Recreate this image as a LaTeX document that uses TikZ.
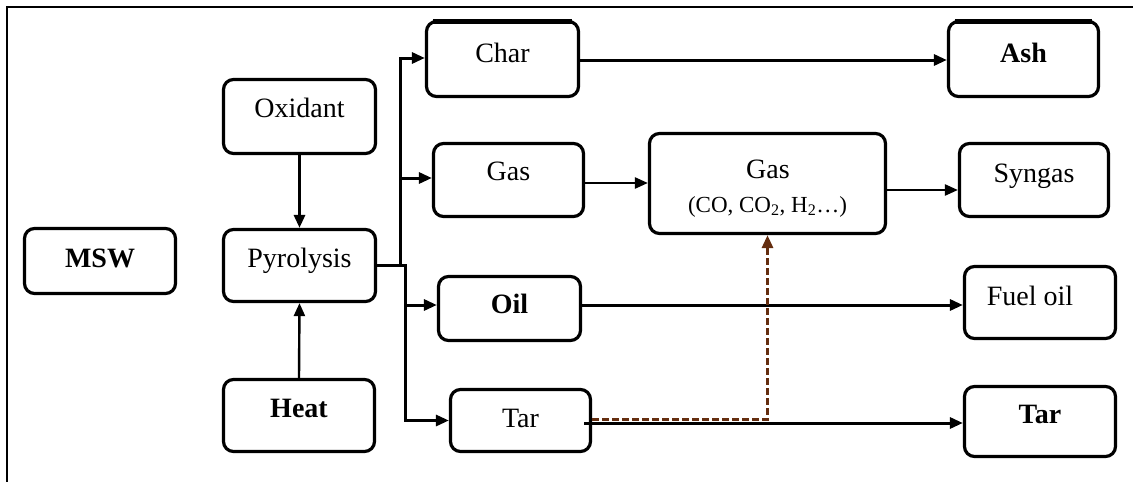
\documentclass[tikz,border=0pt]{standalone}
\usepackage{fontspec}
\setmainfont{Liberation Serif}
\usetikzlibrary{arrows.meta}
\definecolor{dashbrown}{RGB}{100,45,15}
\tikzset{
  box/.style={draw=black, line width=3.2pt, rounded corners=10pt, inner sep=0pt,
    font=\fontsize{28}{32}\selectfont, text height=0pt, text depth=0pt},
  bbox/.style={box, font=\fontsize{28}{32}\selectfont\bfseries},
  ln/.style={draw=black, line width=3pt},
  arr/.style={ln, -{Triangle[length=13pt,width=11pt]}},
  thinarr/.style={draw=black, line width=2.4pt, -{Triangle[length=13pt,width=11pt]}},
  dasharr/.style={draw=dashbrown, line width=3pt, dash pattern=on 7pt off 3pt,
    -{Triangle[length=13pt,width=11pt]}},
  frame/.style={draw=black, line width=1.8pt},
  subtxt/.style={font=\fontsize{23}{26}\selectfont, inner sep=0pt, anchor=base},
  toptxt/.style={font=\fontsize{28}{32}\selectfont, inner sep=0pt, anchor=base}
}
\begin{document}
\begin{tikzpicture}[x=1pt,y=-1pt]
\useasboundingbox (0,0) rectangle (1133,482);
% frame (top and left sides)
\coordinate (fbl) at (7,482);
\coordinate (ftl) at (7,7);
\coordinate (ftr) at (1133,7);
\draw[frame] (fbl) -- (ftl) -- (ftr);

% left column
\node[bbox, minimum width=151pt, minimum height=65pt, text height=12pt] (msw) at (100,261) {MSW};
\node[box, minimum width=152pt, minimum height=74pt, text height=1pt] (ox) at (299.5,116.5) {Oxidant};
\node[box, minimum width=152pt, minimum height=72pt, text height=3pt] (pyr) at (299.5,265.5) {Pyrolysis};
\node[bbox, minimum width=151pt, minimum height=72pt, text height=3pt] (heat) at (299,415.5) {Heat};

% middle column
\node[box, minimum width=152pt, minimum height=75pt, text height=6pt] (char) at (502.5,59) {Char};
\node[box, minimum width=150pt, minimum height=73pt, text height=0pt] (gas) at (508.5,180) {Gas};
\node[bbox, minimum width=142pt, minimum height=64pt, text height=9pt] (oil) at (509.5,308.5) {Oil};
\node[box, minimum width=140pt, minimum height=62pt, text height=13pt] (tar) at (520.5,420.5) {Tar};
\node[box, minimum width=236pt, minimum height=100pt] (gas2) at (767.5,183.5) {};
\node[toptxt] (gas2a) at (768,178) {Gas};
\node[subtxt] (gas2b) at (767.5,212) {(CO, CO\textsubscript{2}, H\textsubscript{2}\dots)};

% right column
\node[bbox, minimum width=150pt, minimum height=75pt, text height=6pt] (ash) at (1023.5,59) {Ash};
\node[box, minimum width=149pt, minimum height=73pt, text height=4pt] (syn) at (1034,180) {Syngas};
\node[box, minimum width=151pt, minimum height=72pt, text height=5pt] (fuel) at (1040,302.5) {Fuel oil\kern20pt};
\node[bbox, minimum width=151pt, minimum height=70pt, text height=3pt] (tar2) at (1040,421.5) {Tar};

% thick top edges of Char and Ash
\draw[line width=5pt] ([xshift=8pt,yshift=-1.5pt]char.north west) -- ([xshift=-8pt,yshift=-1.5pt]char.north east);
\draw[line width=5pt] ([xshift=8pt,yshift=-1.5pt]ash.north west) -- ([xshift=-8pt,yshift=-1.5pt]ash.north east);

% inputs to pyrolysis
\draw[arr] (ox.south) -- (pyr.north);
\draw[thinarr] (heat.north) -- (pyr.south);

% distribution trunks
\coordinate (j1) at (400,265);
\coordinate (j2) at (405,265);
\draw[ln] (pyr.east |- j1) -- (j2) -- ([yshift=1.5pt]j2);
\draw[arr] (j1) |- ([yshift=1pt]char.west);
\draw[arr] (j1 |- 0,178) -- (gas.west |- 0,178);
\draw[arr] (j2) |- (tar.west);
\draw[arr] (j2 |- 0,305) -- (oil.west |- 0,305);

% product lines
\draw[arr] ([yshift=-1pt]char.east) -- ([yshift=-1pt]char.east -| ash.west);
\draw[thinarr] (gas.east |- 0,183) -- (gas2.west |- 0,183);
\draw[thinarr] (gas2.east |- 0,190) -- (syn.west |- 0,190);
\draw[arr] (oil.east |- 0,305) -- (fuel.west |- 0,305);
\draw[arr] ([xshift=-8pt]tar.east |- 0,423) -- (tar2.west |- 0,423);
\draw[dasharr] ([yshift=1pt]tar.east) -| (gas2.south);
\end{tikzpicture}
\end{document}
